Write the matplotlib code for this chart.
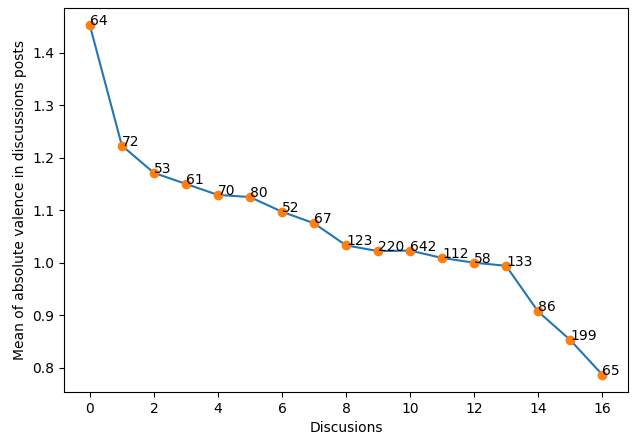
from matplotlib import pyplot as plt
import numpy as np

# mean absolute valence per discussion, and number of posts in each
discussions = np.arange(17)
valence = [1.452, 1.223, 1.171, 1.150, 1.129, 1.125, 1.097, 1.075, 1.033,
           1.022, 1.023, 1.009, 1.000, 0.994, 0.907, 0.853, 0.787]
posts = [64, 72, 53, 61, 70, 80, 52, 67, 123, 220, 642, 112, 58, 133, 86, 199, 65]

fig = plt.figure(figsize=(6.36, 4.36), dpi=100)
plt.plot(discussions, valence)
plt.plot(discussions, valence, 'o')
for x, y, n in zip(discussions, valence, posts):
    plt.text(x, y, str(n))

plt.xticks(range(0, 17, 2))
plt.xlabel('Discusions')
plt.ylabel('Mean of absolute valence in discussions posts')
plt.subplots_adjust(left=0.101, right=0.987, top=0.982, bottom=0.101)
plt.savefig('out.png')
